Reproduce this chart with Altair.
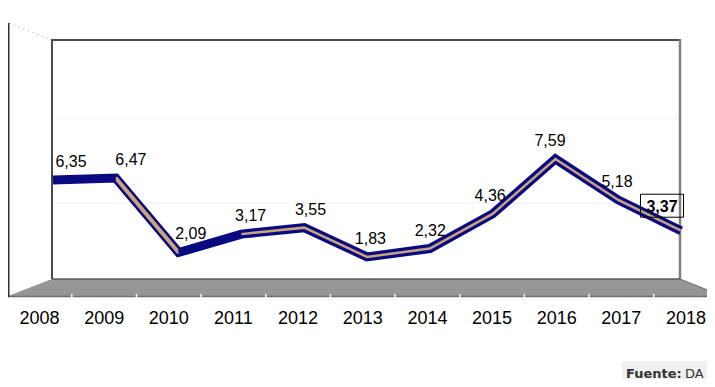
import altair as alt
import pandas as pd

# ---- data ----
years = [2008, 2009, 2010, 2011, 2012, 2013, 2014, 2015, 2016, 2017, 2018]
values = [6.35, 6.47, 2.09, 3.17, 3.55, 1.83, 2.32, 4.36, 7.59, 5.18, 3.37]
value_labels = [f"{v:.2f}".replace(".", ",") for v in values]
year_labels = [str(y) for y in years]
source_prefix = "Fuente:"
source_name = "DA"

W, H = 699, 371

df = pd.DataFrame({"year": years, "value": values, "label": value_labels, "ylab": year_labels})
df_main = df.iloc[:-1]
df_last = df.iloc[-1:]
df_sep = pd.DataFrame({"b": [y + 0.5 for y in years[:-1]]})
# ribbon segments, one row per segment
df_seg = pd.DataFrame({
    "x0": years[:-1], "x1": years[1:], "v0": values[:-1], "v1": values[1:],
})
seg_hidden = df_seg.iloc[[0, 2]]   # stretches where the ribbon's top face is not seen
seg_wide = df_seg.iloc[[1]]        # stretch where the top face is seen widely
one = pd.DataFrame({"k": [0]})

line_x = alt.Scale(domain=[2008, 2018], range=[45, 673], nice=False, zero=False)
lab_x = alt.Scale(domain=[2008, 2016, 2017, 2018], range=[63, 542, 609, 654], nice=False, zero=False)
cat_x = alt.Scale(domain=[2008, 2018], range=[31.5, 678], nice=False, zero=False)
y_sc = alt.Scale(domain=[0, 15], range=[280, 25], nice=False, zero=False)

FONT = "Liberation Sans"
NAVY = "#0a0a80"
TAN = "#c9a47e"


def seg(x1, y1, x2, y2, color, width, dash=None):
    kw = dict(color=color, strokeWidth=width)
    if dash:
        kw["strokeDash"] = dash
    return alt.Chart(one).mark_rule(**kw).encode(
        x=alt.value(x1), y=alt.value(y1), x2=alt.value(x2), y2=alt.value(y2)
    )


# floor (decorative 3D base)
floor_df = pd.DataFrame({"px": [0, 44, 672, 707], "py": [288, 271, 271, 285], "py2": [288, 288, 288, 288]})
floor = alt.Chart(floor_df).mark_area(color="#969696", opacity=1).encode(
    x=alt.X("px:Q", scale=None, axis=None),
    y=alt.Y("py:Q", scale=None, axis=None),
    y2="py2:Q",
)

decor = [
    floor,
    seg(44, 110, 672, 110, "#f2f2f2", 1),
    seg(44, 195, 672, 195, "#f2f2f2", 1),
    seg(1, 15, 44, 32, "#c4c4c4", 1, [2, 3]),
    seg(44, 32, 672, 32, "#4a4a4a", 2),
    seg(44, 31, 44, 271, "#4a4a4a", 2),
    seg(672, 31, 672, 271, "#808080", 2.5),
    seg(44, 271, 672, 271, "#5a5a5a", 1.5),
    seg(672, 271, 707, 285, "#6a6a6a", 1),
    seg(0, 288.5, 699, 288.5, "#6e6e6e", 1.5),
    seg(0.75, 15, 0.75, 289, "#333333", 1.5),
]

seps = alt.Chart(df_sep).mark_rule(color="white", strokeWidth=1.5).encode(
    x=alt.X("b:Q", scale=cat_x, axis=None), y=alt.value(286), y2=alt.value(291)
)

line_dark = alt.Chart(df).mark_line(color=NAVY, strokeWidth=9).encode(
    x=alt.X("year:Q", scale=line_x, axis=None), y=alt.Y("value:Q", scale=y_sc, axis=None)
)
line_tan = alt.Chart(df).mark_line(color=TAN, strokeWidth=2.5, strokeJoin="miter").encode(
    x=alt.X("year:Q", scale=line_x, axis=None), y=alt.Y("value:Q", scale=y_sc, axis=None)
)
tan_wide = alt.Chart(seg_wide).mark_rule(color=TAN, strokeWidth=4).encode(
    x=alt.X("x0:Q", scale=line_x, axis=None), x2="x1:Q",
    y=alt.Y("v0:Q", scale=y_sc, axis=None), y2="v1:Q",
)
navy_cover = alt.Chart(seg_hidden).mark_rule(color=NAVY, strokeWidth=5).encode(
    x=alt.X("x0:Q", scale=line_x, axis=None), x2="x1:Q",
    y=alt.Y("v0:Q", scale=y_sc, axis=None), y2="v1:Q",
)

labels = alt.Chart(df_main).mark_text(
    font=FONT, fontSize=16, color="black", dy=-13, baseline="alphabetic", align="center"
).encode(
    x=alt.X("year:Q", scale=lab_x, axis=None), y=alt.Y("value:Q", scale=y_sc, axis=None), text="label:N"
)
last_label = alt.Chart(df_last).mark_text(
    font=FONT, fontSize=16, fontWeight="bold", color="black", dy=-18.7, baseline="alphabetic", align="center"
).encode(
    x=alt.X("year:Q", scale=lab_x, axis=None), y=alt.Y("value:Q", scale=y_sc, axis=None), text="label:N"
)
box = alt.Chart(df_last).mark_point(
    shape="M-1,-0.535L1,-0.535L1,0.535L-1,0.535Z", size=1849, filled=False,
    stroke="black", strokeWidth=1, opacity=1, yOffset=-25,
).encode(
    x=alt.X("year:Q", scale=lab_x, axis=None), y=alt.Y("value:Q", scale=y_sc, axis=None)
)

year_text = alt.Chart(df).mark_text(
    font=FONT, fontSize=18, color="black", baseline="alphabetic", align="center"
).encode(
    x=alt.X("year:Q", scale=cat_x, axis=None), y=alt.value(316), text="ylab:N"
)

src_box = alt.Chart(one).mark_rect(color="#f0f0f0").encode(
    x=alt.value(614), x2=alt.value(699), y=alt.value(353), y2=alt.value(371)
)
src1 = alt.Chart(pd.DataFrame({"t": [source_prefix]})).mark_text(
    font="DejaVu Sans", fontSize=13, fontWeight="bold", color="#333333", align="left", baseline="alphabetic"
).encode(x=alt.value(618), y=alt.value(369.5), text="t:N")
src2 = alt.Chart(pd.DataFrame({"t": [source_name]})).mark_text(
    font="DejaVu Sans", fontSize=13, color="#333333", align="left", baseline="alphabetic"
).encode(x=alt.value(677), y=alt.value(369.5), text="t:N")

chart = alt.layer(
    *decor, seps, line_dark, line_tan, tan_wide, navy_cover,
    labels, box, last_label, year_text, src_box, src1, src2
).resolve_scale(x="independent", y="independent").properties(
    width=W, height=H, padding=0, autosize=alt.AutoSizeParams(type="none")
).configure(background="white", view=alt.ViewConfig(stroke=None))

chart.save("out.html", embed_options={"renderer": "svg", "actions": False})
